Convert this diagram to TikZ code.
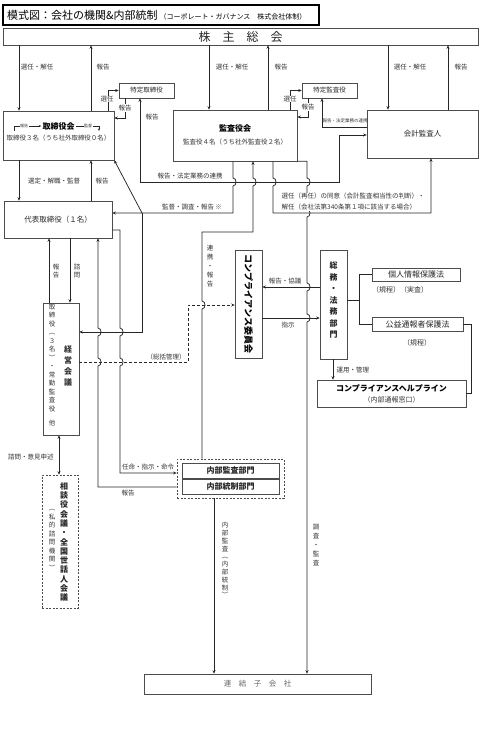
\documentclass[tikz,border=0pt]{standalone}
\usepackage{fontspec}
\setmainfont{Noto Sans CJK JP}
\usetikzlibrary{arrows.meta}

\tikzset{
  box/.style={draw=black!70, line width=0.6pt, inner sep=0pt, text=black!85},
  line/.style={draw=black!85, line width=0.75pt},
  arr/.style={line, -{Stealth[length=3.5pt,width=3pt]}},
  both/.style={line, {Stealth[length=3.5pt,width=3pt]}-{Stealth[length=3.5pt,width=3pt]}},
  lbl/.style={font=\fontsize{6.5}{7}\selectfont, text=black!80, inner sep=0.5pt},
  tate/.style={lbl, align=center, font=\fontsize{6.5}{8}\selectfont},
}

\begin{document}
\begin{tikzpicture}[x=1pt,y=-1pt]
    \useasboundingbox (0,0) rectangle (500,739);

    % 表題
    \node[box, draw=black, line width=1.2pt, minimum width=316, minimum height=20] (title) at (161,15) {};
    \node[anchor=west, inner sep=0pt, font=\fontsize{11}{12}\selectfont] (titletext) at (7,15) {模式図：会社の機関\&内部統制\,{\fontsize{7}{8}\selectfont（コーポレート・ガバナンス　株式会社体制）}};

    % 株主総会
    \node[box, minimum width=475, minimum height=17, font=\fontsize{12}{13}\selectfont] (soukai) at (240.5,36.5) {株　主　総　会};

    % 取締役会
    \node[box, minimum width=111, minimum height=49] (torishimari) at (58.5,135.5) {};
    \node[font=\fontsize{8}{9}\selectfont\bfseries, inner sep=1pt] (torititle) at (58.5,126) {取締役会};
    \node[lbl] (torimember) at (58.5,138) {取締役３名（うち社外取締役０名）};
    \draw[line, -{Stealth[length=2.5pt,width=2pt]}] (14,131) |- (torititle.west);
    \node[lbl, fill=white, font=\fontsize{4}{5}\selectfont] at (24,126) {報告};
    \draw[line, -{Stealth[length=2.5pt,width=2pt]}] (torititle.east) -| (99,131);
    \node[lbl, fill=white, font=\fontsize{4}{5}\selectfont] at (88,126) {監督};

    % 特定取締役・監査役会・特定監査役・会計監査人
    \node[box, minimum width=55, minimum height=15, font=\fontsize{6.5}{7}\selectfont] (tokutori) at (146.5,90.5) {特定取締役};
    \node[box, minimum width=124, minimum height=51] (kansayaku) at (235,135.5) {};
    \node[font=\fontsize{8}{9}\selectfont\bfseries] (kansatitle) at (235,128) {監査役会};
    \node[lbl] (kansamember) at (235,142) {監査役４名（うち社外監査役２名）};
    \node[box, minimum width=55, minimum height=15, font=\fontsize{6.5}{7}\selectfont] (tokukansa) at (329.5,90.5) {特定監査役};
    \node[box, minimum width=111, minimum height=48, font=\fontsize{7.5}{8}\selectfont] (kaikei) at (422.5,134) {会計監査人};

    % 代表取締役・経営会議・相談役会議
    \node[box, minimum width=108, minimum height=37, font=\fontsize{7.5}{8}\selectfont] (daihyo) at (58,219.5) {代表取締役（１名）};
    \node[box, minimum width=36, minimum height=132] (keiei) at (61,369) {};
    \node[tate, font=\fontsize{6.5}{8.5}\selectfont] (keieimember) at (52,365) {取\\締\\役\\︵\\３\\名\\︶\\・\\常\\勤\\監\\査\\役\\[6pt]他};
    \node[tate, font=\fontsize{8}{11}\selectfont\bfseries] (keieititle) at (68,366) {経\\営\\会\\議};
    \node[box, dash pattern=on 2pt off 1.5pt, minimum width=36, minimum height=133] (soudan) at (60,541.5) {};
    \node[tate, font=\fontsize{8}{9.3}\selectfont\bfseries, text=black!85] (soudantitle) at (64,542) {相\\談\\役\\会\\議\\・\\全\\国\\世\\話\\人\\会\\議};
    \node[tate, font=\fontsize{6.5}{8.5}\selectfont] (soudansub) at (52,540) {︵\\私\\的\\諮\\問\\機\\関\\︶};

    % コンプライアンス
    \node[box, minimum width=27, minimum height=108] (comp) at (248.5,304) {};
    \node[rotate=-90, font=\fontsize{9}{10}\selectfont\bfseries] (comptitle) at (248.5,304) {コンプライアンス委員会};
    \node[box, minimum width=27, minimum height=109] (soumu) at (333.5,304.5) {};
    \node[tate, font=\fontsize{8}{11.5}\selectfont\bfseries, text=black!85] (soumutitle) at (333.5,300) {総\\務\\・\\法\\務\\部\\門};
    \node[box, minimum width=88, minimum height=13, font=\fontsize{8}{9}\selectfont] (kojin) at (416,274.5) {個人情報保護法};
    \node[lbl, font=\fontsize{7}{8}\selectfont] (kojinsub) at (400,290) {（規程）（実査）};
    \node[box, minimum width=91, minimum height=14, font=\fontsize{8}{9}\selectfont] (koueki) at (417.5,324) {公益通報者保護法};
    \node[lbl, font=\fontsize{7}{8}\selectfont] (kouekisub) at (417,343) {（規程）};
    \node[box, minimum width=149, minimum height=27] (help) at (391.5,393.5) {};
    \node[font=\fontsize{8}{9}\selectfont\bfseries] (helptitle) at (391.5,388) {コンプライアンスヘルプライン};
    \node[lbl, font=\fontsize{7}{8}\selectfont] (helpsub) at (391.5,400) {（内部通報窓口）};

    % 内部監査部門・内部統制部門
    \node[box, dash pattern=on 2pt off 1.5pt, line width=0.8pt, minimum width=107, minimum height=39] (naibu) at (230.5,478.5) {};
    \node[box, minimum width=97, minimum height=15, font=\fontsize{8}{9}\selectfont\bfseries] (kansabu) at (230.5,470.5) {内部監査部門};
    \node[box, minimum width=97, minimum height=15, font=\fontsize{8}{9}\selectfont\bfseries] (touseibu) at (230.5,486.5) {内部統制部門};

    % 連結子会社
    \node[box, minimum width=227, minimum height=20, font=\fontsize{7.5}{8}\selectfont, text=black!60] (renketsu) at (257.5,684) {連　結　子　会　社};

    % 株主総会との線
    \draw[arr] (19,0 |- soukai.south) -- (19,0 |- torishimari.north);
    \draw[arr] (91,0 |- torishimari.north) -- (91,0 |- soukai.south);
    \draw[arr] (209,0 |- soukai.south) -- (209,0 |- kansayaku.north);
    \draw[arr] (268,0 |- kansayaku.north) -- (268,0 |- soukai.south);
    \draw[arr] (388,0 |- soukai.south) -- (388,0 |- kaikei.north);
    \draw[arr] (448,0 |- kaikei.north) -- (448,0 |- soukai.south);
    \node[lbl] at (37,67) {選任・解任};
    \node[lbl] at (103,67) {報告};
    \node[lbl] at (232,67) {選任・解任};
    \node[lbl] at (281,67) {報告};
    \node[lbl] at (410,67) {選任・解任};
    \node[lbl] at (461,67) {報告};

    % 特定取締役・特定監査役
    \draw[arr] (108,0 |- torishimari.north) |- (tokutori.west);
    \node[lbl, fill=white] at (107,99) {選任};
    \draw[arr] (125,0 |- tokutori.south) |- (torishimari.east |- 0,118);
    \node[lbl, fill=white] at (125,108) {報告};
    \draw[arr] (290,0 |- kansayaku.north) |- (tokukansa.west);
    \node[lbl, fill=white] at (290,99) {選任};
    \draw[arr] (308,0 |- tokukansa.south) |- (kansayaku.east |- 0,117);
    \node[lbl, fill=white] at (308,107) {報告};
    \draw[arr] (kaikei.west |- 0,127) -| (322,0 |- tokukansa.south);
    \node[lbl, font=\fontsize{4.5}{5}\selectfont] at (345,121) {報告・法定業務の連携};

    % 報告・法定業務の連携
    \draw[both] (140,0 |- tokutori.south) -- (140,182) -- (339,182) |- (kaikei.west |- 0,135);
    \node[lbl] at (152,117) {報告};
    \node[lbl] at (190,176) {報告・法定業務の連携};

    % 監督・調査・報告
    \coordinate (kantoku) at (142,213);
    \draw[arr] (233,0 |- kansayaku.south) -- (233,178) .. controls +(4,0) and +(4,0) .. (233,186) -- (233,213) -- (daihyo.east |- 0,213);
    \draw[arr] (kantoku) -- (torishimari.south east);
    \draw[arr] (kantoku) |- (keiei.east |- 0,332);
    \node[lbl] at (192,207) {監督・調査・報告 ※};

    % 連携・報告
    \draw[arr] (naibu.north -| 202,0) -- (202,309) .. controls +(4,0) and +(4,0) .. (202,301) -- (202,232) -- (253,232) -- (253,186) .. controls +(4,0) and +(4,0) .. (253,178) -- (253,0 |- kansayaku.south);
    \node[tate, font=\fontsize{6.5}{9}\selectfont] at (210,266) {連\\携\\・\\報\\告};

    % 会計監査人の選任・解任の同意
    \draw[arr] (273,0 |- kansayaku.south) -- (273,178) .. controls +(4,0) and +(4,0) .. (273,186) -- (273,213) -| (431,0 |- kaikei.south);

    % 調査・監査
    \draw[arr] (kansayaku.south east) -- (307,0 |- kansayaku.south east) -- (307,178) .. controls +(4,0) and +(4,0) .. (307,186) -- (307,209) .. controls +(4,0) and +(4,0) .. (307,217) -- (307,283) .. controls +(4,0) and +(4,0) .. (307,291) -- (307,314) .. controls +(4,0) and +(4,0) .. (307,322) -- (307,0 |- renketsu.north);
    \node[lbl, fill=white, align=left, anchor=west, font=\fontsize{6.5}{11}\selectfont] at (281,202) {選任（再任）の同意（会計監査相当性の判断）・\\解任（会社法第340条第１項に該当する場合）};
    \node[tate, font=\fontsize{6.5}{9}\selectfont] at (316,545) {調\\査\\・\\監\\査};

    % 内部監査
    \draw[arr] (214,0 |- naibu.south) -- (214,0 |- renketsu.north);
    \node[tate, font=\fontsize{6.5}{7.8}\selectfont] at (225,560) {内\\部\\監\\査\\︵\\内\\部\\統\\制\\︶};

    % 代表取締役
    \draw[arr] (19,0 |- torishimari.south) -- (19,0 |- daihyo.north);
    \draw[arr] (91,0 |- daihyo.north) -- (91,0 |- torishimari.south);
    \node[lbl] at (54,181) {選定・解職・監督};
    \node[lbl] at (102,181) {報告};
    \draw[arr] (49,0 |- keiei.north) -- (49,0 |- daihyo.south);
    \draw[arr] (70,0 |- daihyo.south) -- (70,0 |- keiei.north);
    \node[tate, font=\fontsize{6.5}{7.5}\selectfont] at (56,271) {報\\告};
    \node[tate, font=\fontsize{6.5}{7.5}\selectfont] at (77,271) {諮\\問};

    % 任命・指示・命令 と 報告
    \draw[arr] (daihyo.east |- 0,230) -- (120,230) -- (120,328) .. controls +(4,0) and +(4,0) .. (120,336) -- (120,358) .. controls +(4,0) and +(4,0) .. (120,366) -- (120,473) -- (naibu.west |- 0,473);
    \node[lbl] at (148,467) {任命・指示・命令};
    \draw[arr] (naibu.west |- 0,487) -- (98,487) -- (98,366) .. controls +(4,0) and +(4,0) .. (98,358) -- (98,336) .. controls +(4,0) and +(4,0) .. (98,328) -- (98,0 |- daihyo.south);
    \node[lbl] at (128,493) {報告};

    % 総括管理
    \draw[arr, line width=1pt, dash pattern=on 3pt off 2pt] (keiei.east |- 0,362) -- (188,362) -- (188,305) -- (comp.west |- 0,305);
    \node[lbl] at (166,357) {（総括管理）};

    % コンプライアンス委員会と総務・法務部門
    \draw[arr] (soumu.west |- 0,287) -- (comp.east |- 0,287);
    \draw[arr] (comp.east |- 0,318) -- (soumu.west |- 0,318);
    \node[lbl] at (285,281) {報告・協議};
    \node[lbl] at (288,325) {指示};
    \draw[line] (soumu.east |- 0,300) -- (359,300);
    \draw[line] (kojin.west) -| (359,0 |- koueki.west) -- (koueki.west);
    \draw[line] (koueki.east) -- (471,0 |- koueki.east) |- (help.east);
    \draw[arr] (333,0 |- soumu.south) -- (333,0 |- help.north);
    \node[lbl, anchor=west] at (336,370) {運用・管理};

    % 相談役会議
    \draw[both] (59,0 |- keiei.south) -- (59,0 |- soudan.north);
    \node[lbl] at (31,457) {諮問・意見申述};
\end{tikzpicture}
\end{document}
